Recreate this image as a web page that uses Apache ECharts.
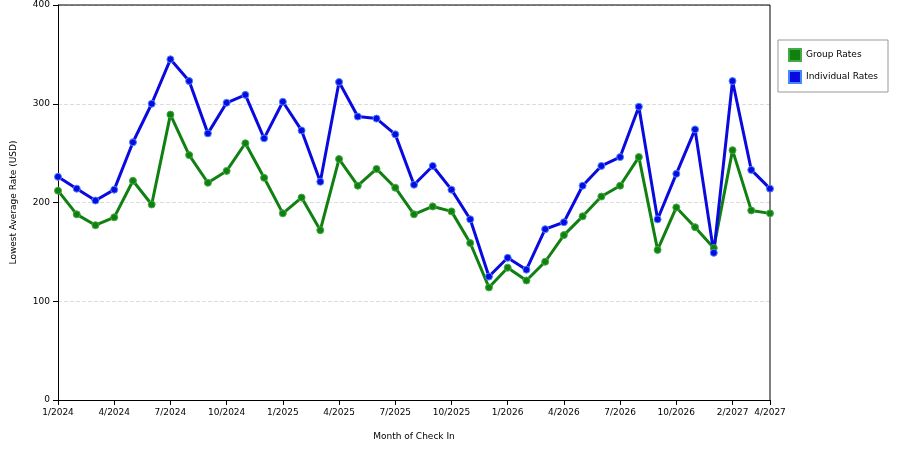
<!DOCTYPE html>
<html><head><meta charset="utf-8">
<script src="https://cdn.jsdelivr.net/npm/echarts@6/dist/echarts.min.js"></script>
<style>html,body{margin:0;padding:0;background:#fff}#c{width:900px;height:450px}</style>
</head><body><div id="c"></div>
<script>
const categories = ["1/2024","2/2024","3/2024","4/2024","5/2024","6/2024","7/2024","8/2024","9/2024","10/2024","11/2024","12/2024",
"1/2025","2/2025","3/2025","4/2025","5/2025","6/2025","7/2025","8/2025","9/2025","10/2025","11/2025","12/2025",
"1/2026","2/2026","3/2026","4/2026","5/2026","6/2026","7/2026","8/2026","9/2026","10/2026","11/2026","12/2026",
"2/2027","3/2027","4/2027"];
const shownLabels = ["1/2024","4/2024","7/2024","10/2024","1/2025","4/2025","7/2025","10/2025","1/2026","4/2026","7/2026","10/2026","2/2027","4/2027"];
const groupRates = [212,188,177,185,222,198,289,248,220,232,260,225,189,205,172,244,217,234,215,188,196,191,159,114,134,121,140,167,186,206,217,246,152,195,175,154,253,192,189];
const individualRates = [226,214,202,213,261,300,345,323,270,301,309,265,302,273,221,322,287,285,269,218,237,213,183,125,144,132,173,180,217,237,246,297,183,229,274,149,323,233,214];
const yTicks = [0,100,200,300,400];

const chart = echarts.init(document.getElementById('c'));
const mk = (name, data, color, border) => ({
  name, type:'line', data, symbol:'circle', symbolSize:7,
  lineStyle:{color, width:3}, itemStyle:{color, borderColor:border, borderWidth:1}
});
chart.setOption({
  animation:false,
  textStyle:{fontFamily:'DejaVu Sans'},
  grid:{left:58,right:130,top:5,bottom:50},
  legend:{orient:'vertical',right:12,top:40,itemWidth:12,itemHeight:12,itemGap:8,
    icon:'rect',padding:[8,10],borderColor:'#999',borderWidth:1,
    textStyle:{fontSize:9,color:'#000'},
    data:['Group Rates','Individual Rates']},
  xAxis:{type:'category',data:categories,boundaryGap:false,name:'Month of Check In',
    nameLocation:'middle',nameGap:32,nameTextStyle:{fontSize:9,color:'#000'},
    axisLine:{lineStyle:{color:'#000'}},
    axisTick:{alignWithLabel:true,interval:(i,v)=>shownLabels.includes(v),lineStyle:{color:'#000'}},
    axisLabel:{fontSize:9,color:'#000',interval:(i,v)=>shownLabels.includes(v)},
    splitLine:{show:false}},
  yAxis:{type:'value',min:yTicks[0],max:yTicks[yTicks.length-1],interval:100,
    name:'Lowest Average Rate (USD)',nameLocation:'middle',nameGap:40,
    nameTextStyle:{fontSize:9,color:'#000'},
    axisLine:{show:true,lineStyle:{color:'#000'}},axisTick:{show:true,lineStyle:{color:'#000'}},
    axisLabel:{fontSize:9,color:'#000'},
    splitLine:{lineStyle:{color:'#ddd',type:'dashed'}}},
  series:[mk('Group Rates',groupRates,'#108010','#4a4'), mk('Individual Rates',individualRates,'#0a0ae0','#48f')]
});
chart.setOption({graphic:[{type:'line',shape:{x1:770,y1:5,x2:770,y2:400},style:{stroke:'#000',lineWidth:1}},
 {type:'line',shape:{x1:58,y1:5,x2:770,y2:5},style:{stroke:'#000',lineWidth:1}}]});
</script></body></html>
